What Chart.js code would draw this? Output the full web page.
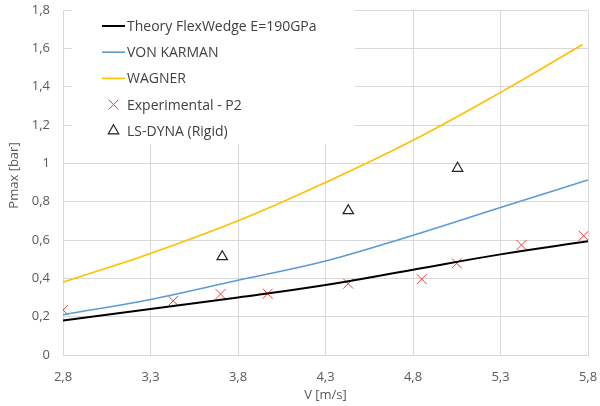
<!DOCTYPE html>
<html>
<head>
<meta charset="utf-8">
<script src="https://cdn.jsdelivr.net/npm/chart.js@4.4.1/dist/chart.umd.min.js"></script>
<style>
  html, body { margin: 0; padding: 0; background: #ffffff; }
  #c { display: block; }
</style>
</head>
<body>
<canvas id="c" width="600" height="406"></canvas>
<script>
// Impact velocity [m/s] and peak pressure [bar]
const theoryV    = [2.8, 3.3, 3.8, 4.3, 4.8, 5.3, 5.8];
const flexWedge  = [0.18, 0.24, 0.30, 0.365, 0.445, 0.525, 0.593];
const vonKarman  = [0.21, 0.29, 0.39, 0.49, 0.625, 0.77, 0.913];
const wagnerV    = [2.8, 3.3, 3.8, 4.3, 4.8, 5.3, 5.77];
const wagner     = [0.38, 0.53, 0.70, 0.90, 1.12, 1.37, 1.62];
const expV       = [2.8, 3.43, 3.70, 3.97, 4.43, 4.85, 5.05, 5.42, 5.775];
const expP       = [0.235, 0.283, 0.318, 0.32, 0.372, 0.396, 0.478, 0.574, 0.622];
const dynaV      = [3.71, 4.43, 5.055];
const dynaP      = [0.513, 0.753, 0.974];

const xTicks = [2.8, 3.3, 3.8, 4.3, 4.8, 5.3, 5.8];
const yTicks = [0, 0.2, 0.4, 0.6, 0.8, 1.0, 1.2, 1.4, 1.6, 1.8];
const seriesNames = ['Theory FlexWedge E=190GPa', 'VON KARMAN', 'WAGNER', 'Experimental - P2', 'LS-DYNA (Rigid)'];
const xTitle = 'V [m/s]';
const yTitle = 'Pmax [bar]';

const FONT = "'Open Sans', 'DejaVu Sans', sans-serif";
const GRID = '#d9d9d9';
const TICK_TEXT = '#595959';

const pts = (xs, ys) => xs.map((x, i) => ({ x: x, y: ys[i] }));
const fmt = v => String(Number(v.toFixed(1))).replace('.', ',');

// Excel-style legend drawn inside the plot on a white panel
const insetLegend = {
  id: 'insetLegend',
  beforeDatasetsDraw(chart) {
    const ctx = chart.ctx;
    const ca = chart.chartArea;
    const bx = ca.left + 9, by = ca.top - 2, bw = 283, bh = 136;
    ctx.save();
    ctx.fillStyle = '#ffffff';
    ctx.fillRect(bx, by, bw, bh);
    ctx.font = '14px ' + FONT;
    ctx.textBaseline = 'middle';
    ctx.textAlign = 'left';
    const x0 = ca.left + 39, x1 = ca.left + 62, tx = ca.left + 64;
    chart.data.datasets.forEach((ds, i) => {
      const y = ca.top + 16 + i * 26.2;
      if (ds.showLine) {
        ctx.strokeStyle = ds.borderColor;
        ctx.lineWidth = ds.borderWidth;
        ctx.beginPath();
        ctx.moveTo(x0, y);
        ctx.lineTo(x1, y);
        ctx.stroke();
      } else {
        ctx.strokeStyle = ds.pointBorderColor;
        ctx.fillStyle = 'rgba(0,0,0,0)';
        ctx.lineWidth = ds.pointBorderWidth;
        Chart.helpers.drawPoint(ctx, {
          pointStyle: ds.pointStyle, radius: ds.pointRadius,
          borderWidth: ds.pointBorderWidth, rotation: 0
        }, (x0 + x1) / 2, y);
      }
      ctx.fillStyle = '#404040';
      ctx.fillText(ds.label, tx, y + 1);
    });
    ctx.restore();
  }
};

// Rotated value-axis title, sitting slightly above the plot's mid-height
const valueAxisTitle = {
  id: 'valueAxisTitle',
  afterDraw(chart) {
    const ctx = chart.ctx;
    const ca = chart.chartArea;
    ctx.save();
    ctx.translate(14, (ca.top + ca.bottom) / 2 - 7);
    ctx.rotate(-Math.PI / 2);
    ctx.font = '13px ' + FONT;
    ctx.fillStyle = TICK_TEXT;
    ctx.textAlign = 'center';
    ctx.textBaseline = 'middle';
    ctx.fillText(yTitle, 0, 0);
    ctx.restore();
  }
};

const lineSet = (label, xs, ys, color, width) => ({
  label: label,
  data: pts(xs, ys),
  showLine: true,
  borderColor: color,
  borderWidth: width,
  pointRadius: 0,
  tension: 0.4,
  fill: false
});

new Chart(document.getElementById('c'), {
  type: 'scatter',
  data: {
    datasets: [
      lineSet(seriesNames[0], theoryV, flexWedge, '#000000', 2),
      lineSet(seriesNames[1], theoryV, vonKarman, '#5b9bd5', 1.6),
      lineSet(seriesNames[2], wagnerV, wagner, '#ffc000', 1.6),
      {
        label: seriesNames[3],
        data: pts(expV, expP),
        showLine: false,
        pointStyle: 'crossRot',
        pointRadius: 7,
        pointBorderWidth: 1,
        pointBorderColor: '#f03c3c',
        pointBackgroundColor: 'rgba(0,0,0,0)'
      },
      {
        label: seriesNames[4],
        data: pts(dynaV, dynaP),
        showLine: false,
        pointStyle: 'triangle',
        pointRadius: 6,
        pointBorderWidth: 1.2,
        pointBorderColor: '#222222',
        pointBackgroundColor: 'rgba(0,0,0,0)'
      }
    ]
  },
  options: {
    responsive: false,
    animation: false,
    devicePixelRatio: 1,
    layout: { padding: { top: 10, right: 12, left: 0, bottom: 0 } },
    plugins: { legend: { display: false }, tooltip: { enabled: false } },
    scales: {
      x: {
        type: 'linear',
        min: 2.8, max: 5.8,
        afterBuildTicks: axis => { axis.ticks = xTicks.map(v => ({ value: v })); },
        afterFit: axis => { axis.height = 51; axis.paddingLeft = 0; axis.paddingRight = 0; },
        grid: { color: GRID, lineWidth: 1, drawTicks: false },
        border: { color: GRID, width: 1 },
        ticks: {
          padding: 14, color: TICK_TEXT, font: { family: FONT, size: 13 },
          maxRotation: 0, autoSkip: false,
          callback: v => fmt(v)
        },
        title: {
          display: true, text: xTitle, color: TICK_TEXT,
          font: { family: FONT, size: 13 }, padding: { top: 0, bottom: 3 }
        }
      },
      y: {
        type: 'linear',
        min: 0, max: 1.8,
        afterBuildTicks: axis => { axis.ticks = yTicks.map(v => ({ value: v })); },
        afterFit: axis => { axis.width = 63; axis.paddingTop = 0; axis.paddingBottom = 0; },
        grid: { color: GRID, lineWidth: 1, drawTicks: false },
        border: { color: GRID, width: 1 },
        ticks: {
          padding: 13, color: TICK_TEXT, font: { family: FONT, size: 13 },
          callback: v => fmt(v)
        },
        title: { display: false }
      }
    }
  },
  plugins: [insetLegend, valueAxisTitle]
});
</script>
</body>
</html>
